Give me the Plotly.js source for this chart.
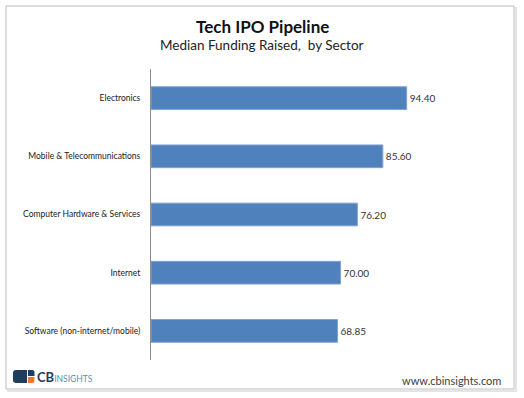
<!DOCTYPE html>
<html>
<head>
<meta charset="utf-8">
<script src="https://cdn.plot.ly/plotly-3.0.1.min.js"></script>
<style>
  html, body { margin: 0; padding: 0; background: #ffffff; }
  #chart { width: 524px; height: 398px; }
</style>
</head>
<body>
<div id="chart"></div>
<script>
// ---- data ----
const sectors = [
  "Electronics",
  "Mobile & Telecommunications",
  "Computer Hardware & Services",
  "Internet",
  "Software (non-internet/mobile)"
];
const medianFunding = [94.40, 85.60, 76.20, 70.00, 68.85];
const chartTitle = "Tech IPO Pipeline";
const chartSubtitle = "Median Funding Raised,  by Sector";
const brandName = "CB";
const brandSuffix = "INSIGHTS";
const siteUrl = "www.cbinsights.com";

// ---- geometry helpers (pixel -> paper coordinates) ----
const W = 524, H = 398;
const M = { l: 151, r: 48, t: 69, b: 38 };
const PW = W - M.l - M.r, PH = H - M.t - M.b;
const px = X => (X - M.l) / PW;
const py = Y => (H - M.b - Y) / PH;

const FONT = "Lato, 'Open Sans', 'DejaVu Sans', sans-serif";
const NAVY = "#1f3d5c";
const ORANGE = "#ec7a2c";

const trace = {
  type: "bar",
  orientation: "h",
  y: sectors,
  x: medianFunding,
  width: 0.39,
  marker: { color: "#4F81BD", line: { color: "#7fa3d3", width: 1 } },
  text: medianFunding.map(v => v.toFixed(2)),
  textposition: "outside",
  cliponaxis: false,
  textfont: { family: FONT, size: 10, color: "#333333" },
  hoverinfo: "none"
};

const shapes = [
  // outer frame shadow
  { type: "rect", xref: "paper", yref: "paper",
    x0: px(8), x1: px(516), y0: py(391), y1: py(8),
    line: { color: "#e4e4e4", width: 2 }, layer: "below" },
  // outer frame
  { type: "rect", xref: "paper", yref: "paper",
    x0: px(6), x1: px(514), y0: py(389), y1: py(6),
    line: { color: "#bdbdbd", width: 1 }, fillcolor: "#ffffff", layer: "below" },
  // logo: navy left block
  { type: "path", xref: "paper", yref: "paper",
    path: `M ${px(27)} ${py(370)} L ${px(16)} ${py(370)} Q ${px(13)} ${py(370)} ${px(13)} ${py(373)} L ${px(13)} ${py(380)} Q ${px(13)} ${py(383)} ${px(16)} ${py(383)} L ${px(27)} ${py(383)} Z`,
    fillcolor: NAVY, line: { width: 0 } },
  // logo: navy top-right block
  { type: "path", xref: "paper", yref: "paper",
    path: `M ${px(28)} ${py(370)} L ${px(32)} ${py(370)} Q ${px(34.5)} ${py(370)} ${px(34.5)} ${py(372.5)} L ${px(34.5)} ${py(376)} L ${px(28)} ${py(376)} Z`,
    fillcolor: NAVY, line: { width: 0 } },
  // logo: orange bottom-right block
  { type: "path", xref: "paper", yref: "paper",
    path: `M ${px(28)} ${py(377)} L ${px(34.5)} ${py(377)} L ${px(34.5)} ${py(381)} Q ${px(34.5)} ${py(383)} ${px(32)} ${py(383)} L ${px(28)} ${py(383)} Z`,
    fillcolor: ORANGE, line: { width: 0 } }
];

const annotations = [
  { text: "<b>" + chartTitle + "</b>", xref: "paper", yref: "paper",
    x: px(262), y: py(26), xanchor: "center", yanchor: "middle", showarrow: false,
    font: { family: FONT, size: 17, color: "#111111" } },
  { text: chartSubtitle, xref: "paper", yref: "paper",
    x: px(262), y: py(45), xanchor: "center", yanchor: "middle", showarrow: false,
    font: { family: FONT, size: 13.5, color: "#222222" } },
  { text: "<b>" + brandName + "</b><span style='font-size:8.5px;color:#5b8db8'>" + brandSuffix + "</span>",
    xref: "paper", yref: "paper",
    x: px(35.5), y: py(377), xanchor: "left", yanchor: "middle", showarrow: false,
    font: { family: FONT, size: 13, color: NAVY } },
  { text: siteUrl, xref: "paper", yref: "paper",
    x: px(503), y: py(380), xanchor: "right", yanchor: "middle", showarrow: false,
    font: { family: FONT, size: 11, color: "#404040" } }
];

const layout = {
  width: W, height: H,
  margin: M,
  paper_bgcolor: "#ffffff",
  plot_bgcolor: "rgba(0,0,0,0)",
  showlegend: false,
  bargap: 0.61,
  xaxis: {
    range: [0, 120],
    visible: false,
    fixedrange: true
  },
  yaxis: {
    type: "category",
    categoryorder: "array",
    categoryarray: sectors,
    autorange: "reversed",
    showline: true,
    linecolor: "#8c8c8c",
    linewidth: 1,
    ticks: "",
    showgrid: false,
    zeroline: false,
    ticklabelstandoff: 8,
    tickfont: { family: FONT, size: 8.5, color: "#1a1a1a" },
    fixedrange: true
  },
  shapes: shapes,
  annotations: annotations
};

Plotly.newPlot("chart", [trace], layout, { displayModeBar: false, staticPlot: true });
</script>
</body>
</html>
